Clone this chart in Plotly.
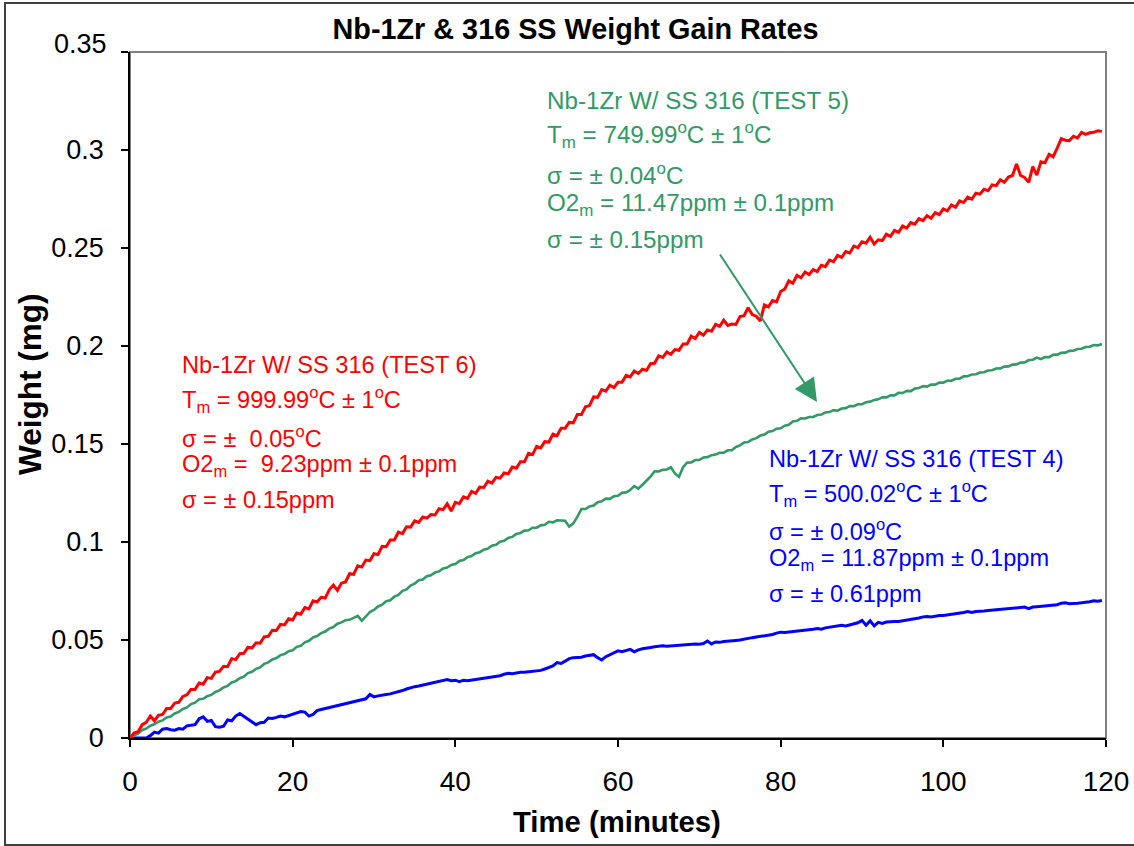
import plotly.graph_objects as go

# Sample times (minutes)
time_min = [
    0.0, 0.5, 1.0, 1.5, 2.0, 2.5, 3.0, 3.5, 4.0, 4.5,
    5.0, 5.5, 6.0, 6.5, 7.0, 7.5, 8.0, 8.5, 9.0, 9.5,
    10.0, 10.5, 11.0, 11.5, 12.0, 12.5, 13.0, 13.5, 14.0, 14.5,
    15.0, 15.5, 16.0, 16.5, 17.0, 17.5, 18.0, 18.5, 19.0, 19.5,
    20.0, 20.5, 21.0, 21.5, 22.0, 22.5, 23.0, 23.5, 24.0, 24.5,
    25.0, 25.5, 26.0, 26.5, 27.0, 27.5, 28.0, 28.5, 29.0, 29.5,
    30.0, 30.5, 31.0, 31.5, 32.0, 32.5, 33.0, 33.5, 34.0, 34.5,
    35.0, 35.5, 36.0, 36.5, 37.0, 37.5, 38.0, 38.5, 39.0, 39.5,
    40.0, 40.5, 41.0, 41.5, 42.0, 42.5, 43.0, 43.5, 44.0, 44.5,
    45.0, 45.5, 46.0, 46.5, 47.0, 47.5, 48.0, 48.5, 49.0, 49.5,
    50.0, 50.5, 51.0, 51.5, 52.0, 52.5, 53.0, 53.5, 54.0, 54.5,
    55.0, 55.5, 56.0, 56.5, 57.0, 57.5, 58.0, 58.5, 59.0, 59.5,
    60.0, 60.5, 61.0, 61.5, 62.0, 62.5, 63.0, 63.5, 64.0, 64.5,
    65.0, 65.5, 66.0, 66.5, 67.0, 67.5, 68.0, 68.5, 69.0, 69.5,
    70.0, 70.5, 71.0, 71.5, 72.0, 72.5, 73.0, 73.5, 74.0, 74.5,
    75.0, 75.5, 76.0, 76.5, 77.0, 77.5, 78.0, 78.5, 79.0, 79.5,
    80.0, 80.5, 81.0, 81.5, 82.0, 82.5, 83.0, 83.5, 84.0, 84.5,
    85.0, 85.5, 86.0, 86.5, 87.0, 87.5, 88.0, 88.5, 89.0, 89.5,
    90.0, 90.5, 91.0, 91.5, 92.0, 92.5, 93.0, 93.5, 94.0, 94.5,
    95.0, 95.5, 96.0, 96.5, 97.0, 97.5, 98.0, 98.5, 99.0, 99.5,
    100.0, 100.5, 101.0, 101.5, 102.0, 102.5, 103.0, 103.5, 104.0, 104.5,
    105.0, 105.5, 106.0, 106.5, 107.0, 107.5, 108.0, 108.5, 109.0, 109.5,
    110.0, 110.5, 111.0, 111.5, 112.0, 112.5, 113.0, 113.5, 114.0, 114.5,
    115.0, 115.5, 116.0, 116.5, 117.0, 117.5, 118.0, 118.5, 119.0, 119.5,
]

# Weight gain (mg), TEST 6 at 999.99 C
weight_test6 = [
    0.0000, 0.0025, 0.0032, 0.0068, 0.0080, 0.0112, 0.0088, 0.0116, 0.0120, 0.0150,
    0.0150, 0.0178, 0.0182, 0.0212, 0.0220, 0.0248, 0.0248, 0.0280, 0.0274, 0.0308,
    0.0304, 0.0336, 0.0340, 0.0366, 0.0364, 0.0405, 0.0400, 0.0430, 0.0432, 0.0462,
    0.0460, 0.0486, 0.0484, 0.0516, 0.0519, 0.0550, 0.0549, 0.0580, 0.0577, 0.0608,
    0.0602, 0.0638, 0.0632, 0.0666, 0.0659, 0.0700, 0.0694, 0.0718, 0.0714, 0.0756,
    0.0780, 0.0754, 0.0790, 0.0796, 0.0838, 0.0835, 0.0878, 0.0872, 0.0908, 0.0905,
    0.0940, 0.0936, 0.0978, 0.0976, 0.1010, 0.1010, 0.1050, 0.1043, 0.1078, 0.1076,
    0.1108, 0.1100, 0.1128, 0.1122, 0.1140, 0.1138, 0.1170, 0.1165, 0.1195, 0.1158,
    0.1202, 0.1196, 0.1230, 0.1222, 0.1258, 0.1248, 0.1280, 0.1278, 0.1310, 0.1300,
    0.1330, 0.1326, 0.1352, 0.1348, 0.1382, 0.1376, 0.1410, 0.1410, 0.1452, 0.1446,
    0.1488, 0.1480, 0.1512, 0.1510, 0.1550, 0.1542, 0.1580, 0.1580, 0.1610, 0.1608,
    0.1650, 0.1650, 0.1690, 0.1696, 0.1740, 0.1738, 0.1778, 0.1770, 0.1800, 0.1788,
    0.1815, 0.1815, 0.1850, 0.1842, 0.1872, 0.1860, 0.1882, 0.1875, 0.1910, 0.1912,
    0.1950, 0.1942, 0.1970, 0.1958, 0.1982, 0.1978, 0.2010, 0.2010, 0.2050, 0.2038,
    0.2070, 0.2055, 0.2082, 0.2075, 0.2110, 0.2100, 0.2132, 0.2105, 0.2112, 0.2110,
    0.2150, 0.2155, 0.2195, 0.2160, 0.2152, 0.2128, 0.2210, 0.2200, 0.2232, 0.2225,
    0.2278, 0.2290, 0.2332, 0.2320, 0.2360, 0.2348, 0.2378, 0.2365, 0.2390, 0.2380,
    0.2412, 0.2405, 0.2438, 0.2430, 0.2462, 0.2452, 0.2482, 0.2475, 0.2510, 0.2502,
    0.2532, 0.2525, 0.2555, 0.2520, 0.2542, 0.2538, 0.2570, 0.2560, 0.2590, 0.2580,
    0.2612, 0.2602, 0.2630, 0.2622, 0.2650, 0.2640, 0.2665, 0.2652, 0.2680, 0.2670,
    0.2700, 0.2690, 0.2720, 0.2708, 0.2740, 0.2732, 0.2760, 0.2750, 0.2780, 0.2775,
    0.2800, 0.2792, 0.2822, 0.2818, 0.2848, 0.2835, 0.2862, 0.2870, 0.2928, 0.2870,
    0.2860, 0.2835, 0.2915, 0.2872, 0.2940, 0.2935, 0.2978, 0.2965, 0.3010, 0.3058,
    0.3050, 0.3048, 0.3070, 0.3062, 0.3090, 0.3080, 0.3088, 0.3090, 0.3098, 0.3095,
]

# Weight gain (mg), TEST 5 at 749.99 C
weight_test5 = [
    0.0000, 0.0014, 0.0022, 0.0041, 0.0048, 0.0063, 0.0070, 0.0083, 0.0090, 0.0105,
    0.0110, 0.0125, 0.0133, 0.0148, 0.0156, 0.0173, 0.0180, 0.0198, 0.0200, 0.0213,
    0.0220, 0.0235, 0.0243, 0.0258, 0.0266, 0.0283, 0.0290, 0.0305, 0.0313, 0.0331,
    0.0338, 0.0353, 0.0360, 0.0378, 0.0386, 0.0401, 0.0408, 0.0423, 0.0428, 0.0443,
    0.0448, 0.0465, 0.0470, 0.0488, 0.0496, 0.0513, 0.0520, 0.0535, 0.0543, 0.0558,
    0.0566, 0.0583, 0.0590, 0.0601, 0.0603, 0.0615, 0.0623, 0.0598, 0.0618, 0.0643,
    0.0653, 0.0671, 0.0680, 0.0698, 0.0703, 0.0721, 0.0730, 0.0751, 0.0758, 0.0778,
    0.0788, 0.0805, 0.0808, 0.0825, 0.0830, 0.0845, 0.0850, 0.0865, 0.0870, 0.0883,
    0.0888, 0.0903, 0.0908, 0.0923, 0.0928, 0.0943, 0.0948, 0.0961, 0.0966, 0.0981,
    0.0986, 0.1001, 0.1006, 0.1021, 0.1026, 0.1041, 0.1046, 0.1058, 0.1060, 0.1073,
    0.1073, 0.1085, 0.1088, 0.1103, 0.1100, 0.1111, 0.1110, 0.1108, 0.1078, 0.1095,
    0.1128, 0.1168, 0.1168, 0.1181, 0.1186, 0.1203, 0.1208, 0.1221, 0.1220, 0.1233,
    0.1236, 0.1251, 0.1253, 0.1265, 0.1285, 0.1272, 0.1292, 0.1313, 0.1334, 0.1361,
    0.1360, 0.1368, 0.1370, 0.1381, 0.1350, 0.1332, 0.1382, 0.1405, 0.1406, 0.1418,
    0.1418, 0.1431, 0.1433, 0.1443, 0.1446, 0.1455, 0.1456, 0.1468, 0.1468, 0.1485,
    0.1493, 0.1508, 0.1510, 0.1523, 0.1530, 0.1543, 0.1548, 0.1563, 0.1566, 0.1578,
    0.1580, 0.1593, 0.1598, 0.1615, 0.1618, 0.1631, 0.1630, 0.1638, 0.1638, 0.1648,
    0.1650, 0.1661, 0.1663, 0.1673, 0.1670, 0.1681, 0.1683, 0.1693, 0.1693, 0.1703,
    0.1703, 0.1713, 0.1716, 0.1725, 0.1728, 0.1738, 0.1738, 0.1748, 0.1748, 0.1761,
    0.1760, 0.1771, 0.1770, 0.1783, 0.1786, 0.1795, 0.1793, 0.1803, 0.1803, 0.1813,
    0.1813, 0.1823, 0.1823, 0.1833, 0.1833, 0.1845, 0.1846, 0.1855, 0.1856, 0.1865,
    0.1866, 0.1875, 0.1876, 0.1885, 0.1886, 0.1895, 0.1896, 0.1905, 0.1906, 0.1915,
    0.1916, 0.1928, 0.1930, 0.1941, 0.1933, 0.1943, 0.1943, 0.1955, 0.1956, 0.1965,
    0.1966, 0.1975, 0.1976, 0.1985, 0.1986, 0.1995, 0.1996, 0.2005, 0.2003, 0.2010,
]

# Weight gain (mg), TEST 4 at 500.02 C
weight_test4 = [
    0.0000, 0.0000, 0.0000, 0.0002, 0.0000, 0.0012, 0.0030, 0.0025, 0.0045, 0.0048,
    0.0042, 0.0040, 0.0048, 0.0045, 0.0062, 0.0065, 0.0068, 0.0098, 0.0108, 0.0085,
    0.0090, 0.0058, 0.0055, 0.0060, 0.0092, 0.0088, 0.0112, 0.0125, 0.0110, 0.0095,
    0.0080, 0.0068, 0.0078, 0.0080, 0.0102, 0.0100, 0.0105, 0.0112, 0.0108, 0.0115,
    0.0125, 0.0130, 0.0135, 0.0132, 0.0112, 0.0120, 0.0140, 0.0145, 0.0150, 0.0155,
    0.0160, 0.0162, 0.0168, 0.0175, 0.0180, 0.0182, 0.0188, 0.0195, 0.0200, 0.0222,
    0.0210, 0.0215, 0.0220, 0.0222, 0.0225, 0.0230, 0.0235, 0.0242, 0.0250, 0.0258,
    0.0262, 0.0265, 0.0270, 0.0275, 0.0280, 0.0285, 0.0290, 0.0295, 0.0298, 0.0292,
    0.0295, 0.0288, 0.0295, 0.0292, 0.0295, 0.0298, 0.0300, 0.0305, 0.0308, 0.0312,
    0.0315, 0.0318, 0.0325, 0.0330, 0.0328, 0.0332, 0.0335, 0.0335, 0.0338, 0.0340,
    0.0342, 0.0345, 0.0352, 0.0360, 0.0368, 0.0385, 0.0380, 0.0392, 0.0405, 0.0410,
    0.0412, 0.0412, 0.0418, 0.0422, 0.0425, 0.0410, 0.0398, 0.0415, 0.0425, 0.0438,
    0.0445, 0.0440, 0.0448, 0.0452, 0.0440, 0.0450, 0.0455, 0.0460, 0.0462, 0.0465,
    0.0468, 0.0470, 0.0468, 0.0470, 0.0472, 0.0475, 0.0475, 0.0478, 0.0478, 0.0480,
    0.0478, 0.0482, 0.0495, 0.0480, 0.0490, 0.0488, 0.0492, 0.0495, 0.0495, 0.0498,
    0.0500, 0.0505, 0.0510, 0.0512, 0.0515, 0.0518, 0.0520, 0.0525, 0.0528, 0.0535,
    0.0540, 0.0538, 0.0540, 0.0542, 0.0545, 0.0548, 0.0550, 0.0552, 0.0555, 0.0558,
    0.0555, 0.0562, 0.0565, 0.0568, 0.0570, 0.0575, 0.0572, 0.0578, 0.0582, 0.0588,
    0.0600, 0.0575, 0.0598, 0.0572, 0.0590, 0.0585, 0.0592, 0.0595, 0.0595, 0.0595,
    0.0598, 0.0600, 0.0605, 0.0608, 0.0612, 0.0618, 0.0620, 0.0618, 0.0622, 0.0625,
    0.0625, 0.0628, 0.0630, 0.0632, 0.0635, 0.0640, 0.0645, 0.0640, 0.0645, 0.0648,
    0.0648, 0.0650, 0.0652, 0.0652, 0.0655, 0.0655, 0.0658, 0.0660, 0.0662, 0.0665,
    0.0668, 0.0660, 0.0668, 0.0670, 0.0672, 0.0672, 0.0675, 0.0678, 0.0680, 0.0688,
    0.0690, 0.0685, 0.0685, 0.0688, 0.0690, 0.0692, 0.0695, 0.0700, 0.0698, 0.0702,
]

# Y-axis ticks
y_ticks = [0, 0.05, 0.1, 0.15, 0.2, 0.25, 0.3, 0.35]
y_tick_text = ["0", "0.05", "0.1", "0.15", "0.2", "0.25", "0.3", ""]
y_top_label = "0.35"

# Test condition labels
label_test5 = [
    "Nb-1Zr W/ SS 316 (TEST 5)",
    "T<sub>m</sub> = 749.99<sup>o</sup>C ± 1<sup>o</sup>C",
    "σ = ± 0.04<sup>o</sup>C",
    "O2<sub>m</sub> = 11.47ppm ± 0.1ppm",
    "σ = ± 0.15ppm",
]
label_test6 = [
    "Nb-1Zr W/ SS 316 (TEST 6)",
    "T<sub>m</sub> = 999.99<sup>o</sup>C ± 1<sup>o</sup>C",
    "σ = ±\u00a0 0.05<sup>o</sup>C",
    "O2<sub>m</sub> =\u00a0 9.23ppm ± 0.1ppm",
    "σ = ± 0.15ppm",
]
label_test4 = [
    "Nb-1Zr W/ SS 316 (TEST 4)",
    "T<sub>m</sub> = 500.02<sup>o</sup>C ± 1<sup>o</sup>C",
    "σ = ± 0.09<sup>o</sup>C",
    "O2<sub>m</sub> = 11.87ppm ± 0.1ppm",
    "σ = ± 0.61ppm",
]

RED = "#FF0000"
GREEN = "#339966"
BLUE = "#0000FF"
FONT = "Liberation Sans, Arial, sans-serif"

W, H = 1134, 846
PL, PR, PT, PB = 130, 1106, 52, 738  # plot area edges in pixels


def fx(px):
    return (px - PL) / (PR - PL)


def fy(py):
    return (PB - py) / (PB - PT)


fig = go.Figure()
fig.add_trace(go.Scatter(x=time_min, y=weight_test4, mode="lines",
                         line=dict(color=BLUE, width=3), name="TEST 4"))
fig.add_trace(go.Scatter(x=time_min, y=weight_test5, mode="lines",
                         line=dict(color=GREEN, width=2.6), name="TEST 5"))
fig.add_trace(go.Scatter(x=time_min, y=weight_test6, mode="lines",
                         line=dict(color=RED, width=3), name="TEST 6"))

annotations = []


def add_block(lines, x_px, baselines, color, size):
    for text, base in zip(lines, baselines):
        annotations.append(dict(
            text=text, xref="paper", yref="paper", x=fx(x_px), y=fy(base - 8),
            xanchor="left", yanchor="middle", showarrow=False,
            font=dict(family=FONT, size=size, color=color),
        ))


add_block(label_test5, 545, [108, 143, 182, 212, 247], GREEN, 24.2)
add_block(label_test6, 180, [373, 408, 445, 474, 508], RED, 23.6)
add_block(label_test4, 767, [467, 502, 538, 568, 602], BLUE, 23.6)

# Arrow pointing at the TEST 5 curve
annotations.append(dict(
    text="", xref="paper", yref="paper", x=fx(817), y=fy(402),
    ax=719 - 817, ay=253 - 402, axref="pixel", ayref="pixel",
    showarrow=True, arrowhead=2, arrowsize=2.3, arrowwidth=2, arrowcolor=GREEN,
))

# Top y tick label, set slightly above its tick
annotations.append(dict(
    text=y_top_label, xref="paper", yref="paper", x=fx(109), y=fy(44),
    xanchor="right", yanchor="middle", showarrow=False,
    font=dict(family=FONT, size=27, color="black"),
))

# Axis titles
annotations.append(dict(
    text="<b>Weight (mg)</b>", xref="paper", yref="paper", x=fx(30), y=fy(385),
    textangle=-90, showarrow=False, xanchor="center", yanchor="middle",
    font=dict(family=FONT, size=31.5, color="black"),
))
annotations.append(dict(
    text="<b>Time (minutes)</b>", xref="paper", yref="paper", x=fx(616.5), y=fy(822),
    showarrow=False, xanchor="center", yanchor="middle",
    font=dict(family=FONT, size=29.3, color="black"),
))

shapes = [
    # plot-area frame
    dict(type="rect", xref="paper", yref="paper", x0=0, x1=1, y0=0, y1=1,
         line=dict(color="#808080", width=2), layer="below"),
    # outer chart border
    dict(type="rect", xref="paper", yref="paper", x0=fx(5), x1=fx(1145),
         y0=fy(845), y1=fy(3), line=dict(color="#404040", width=2)),
]

axis_common = dict(
    showgrid=False, zeroline=False, showline=True, linecolor="black", linewidth=1.5,
    ticks="outside", ticklen=7, tickwidth=1.5, tickcolor="black", automargin=False,
)

fig.update_layout(
    width=W, height=H, autosize=False,
    margin=dict(l=PL, r=W - PR, t=PT, b=H - PB, pad=0, autoexpand=False),
    paper_bgcolor="white", plot_bgcolor="white",
    showlegend=False,
    title=dict(text="<b>Nb-1Zr &amp; 316 SS Weight Gain Rates</b>",
               x=575.5 / W, xanchor="center", y=1 - 29 / H, yanchor="middle",
               xref="container", yref="container",
               font=dict(family=FONT, size=28.8, color="black")),
    xaxis=dict(range=[0, 120], dtick=20, tick0=0,
               tickfont=dict(family=FONT, size=28, color="black"),
               ticklabelstandoff=11, **axis_common),
    yaxis=dict(range=[0, 0.35], tickmode="array", tickvals=y_ticks, ticktext=y_tick_text,
               tickfont=dict(family=FONT, size=27, color="black"),
               ticklabelstandoff=12, **axis_common),
    annotations=annotations,
    shapes=shapes,
)

fig.write_html("out.html")
